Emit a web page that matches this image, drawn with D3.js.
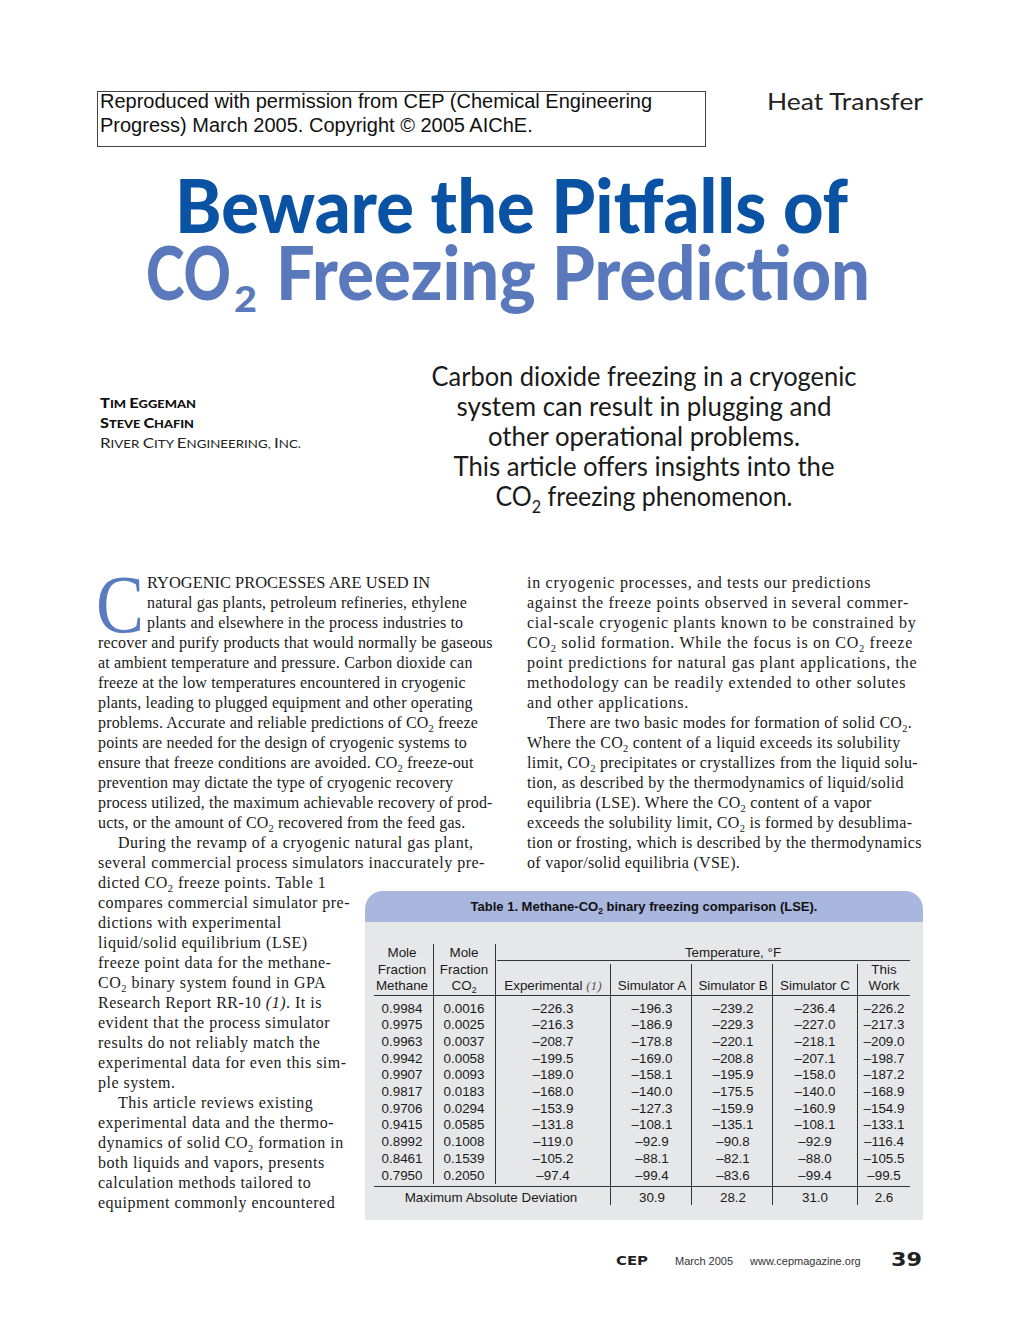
<!DOCTYPE html>
<html><head><meta charset="utf-8">
<script src="https://cdn.jsdelivr.net/npm/d3@7"></script>
<style>body{margin:0;background:#fff}svg{display:block}</style>
</head><body><svg id="page" width="1020" height="1320"></svg>
<script>
// ---------------- DATA ----------------
const noticeLines = [
  "Reproduced with permission from CEP (Chemical Engineering",
  "Progress) March 2005. Copyright © 2005 AIChE."
];
const sectionLabel = "Heat Transfer";
const titleLine1 = "Beware the Pitfalls of";
const titleLine2a = "CO";
const titleLine2b = "Freezing Prediction";
const authorNames = ["Tim Eggeman", "Steve Chafin"];
const affiliation = "River City Engineering, Inc.";
const deckLines = [
  "Carbon dioxide freezing in a cryogenic",
  "system can result in plugging and",
  "other operational problems.",
  "This article offers insights into the",
  "CO₂ freezing phenomenon."
];
const dropCap = "C";
// lines beginning with "¶" are paragraph starts (indented)
const leftColumn = [
  "RYOGENIC PROCESSES ARE USED IN",
  "natural gas plants, petroleum refineries, ethylene",
  "plants and elsewhere in the process industries to",
  "recover and purify products that would normally be gaseous",
  "at ambient temperature and pressure. Carbon dioxide can",
  "freeze at the low temperatures encountered in cryogenic",
  "plants, leading to plugged equipment and other operating",
  "problems. Accurate and reliable predictions of CO₂ freeze",
  "points are needed for the design of cryogenic systems to",
  "ensure that freeze conditions are avoided. CO₂ freeze-out",
  "prevention may dictate the type of cryogenic recovery",
  "process utilized, the maximum achievable recovery of prod-",
  "ucts, or the amount of CO₂ recovered from the feed gas.",
  "¶During the revamp of a cryogenic natural gas plant,",
  "several commercial process simulators inaccurately pre-",
  "dicted CO₂ freeze points. Table 1",
  "compares commercial simulator pre-",
  "dictions with experimental",
  "liquid/solid equilibrium (LSE)",
  "freeze point data for the methane-",
  "CO₂ binary system found in GPA",
  "Research Report RR-10 *(1)*. It is",
  "evident that the process simulator",
  "results do not reliably match the",
  "experimental data for even this sim-",
  "ple system.",
  "¶This article reviews existing",
  "experimental data and the thermo-",
  "dynamics of solid CO₂ formation in",
  "both liquids and vapors, presents",
  "calculation methods tailored to",
  "equipment commonly encountered"
];
const rightColumn = [
  "in cryogenic processes, and tests our predictions",
  "against the freeze points observed in several commer-",
  "cial-scale cryogenic plants known to be constrained by",
  "CO₂ solid formation. While the focus is on CO₂ freeze",
  "point predictions for natural gas plant applications, the",
  "methodology can be readily extended to other solutes",
  "and other applications.",
  "¶There are two basic modes for formation of solid CO₂.",
  "Where the CO₂ content of a liquid exceeds its solubility",
  "limit, CO₂ precipitates or crystallizes from the liquid solu-",
  "tion, as described by the thermodynamics of liquid/solid",
  "equilibria (LSE). Where the CO₂ content of a vapor",
  "exceeds the solubility limit, CO₂ is formed by desublima-",
  "tion or frosting, which is described by the thermodynamics",
  "of vapor/solid equilibria (VSE)."
];

const tableTitle = "Table 1. Methane-CO₂ binary freezing comparison (LSE).";
const columnKeys = ["methane", "co2", "experimental", "simA", "simB", "simC", "thisWork"];
const columnHeaders = [
  ["Mole", "Fraction", "Methane"],
  ["Mole", "Fraction", "CO₂"],
  ["", "", "Experimental *(1)*"],
  ["", "", "Simulator A"],
  ["", "", "Simulator B"],
  ["", "", "Simulator C"],
  ["", "This", "Work"]
];
const temperatureHeader = "Temperature, °F";
const methaneFraction = [0.9984, 0.9975, 0.9963, 0.9942, 0.9907, 0.9817, 0.9706, 0.9415, 0.8992, 0.8461, 0.7950];
const co2Fraction     = [0.0016, 0.0025, 0.0037, 0.0058, 0.0093, 0.0183, 0.0294, 0.0585, 0.1008, 0.1539, 0.2050];
const experimental    = [-226.3, -216.3, -208.7, -199.5, -189.0, -168.0, -153.9, -131.8, -119.0, -105.2, -97.4];
const simulatorA      = [-196.3, -186.9, -178.8, -169.0, -158.1, -140.0, -127.3, -108.1, -92.9, -88.1, -99.4];
const simulatorB      = [-239.2, -229.3, -220.1, -208.8, -195.9, -175.5, -159.9, -135.1, -90.8, -82.1, -83.6];
const simulatorC      = [-236.4, -227.0, -218.1, -207.1, -158.0, -140.0, -160.9, -108.1, -92.9, -88.0, -99.4];
const thisWork        = [-226.2, -217.3, -209.0, -198.7, -187.2, -168.9, -154.9, -133.1, -116.4, -105.5, -99.5];
const deviationLabel = "Maximum Absolute Deviation";
const maxAbsDeviation = [30.9, 28.2, 31.0, 2.6]; // simA, simB, simC, thisWork

const footerBrand = "CEP";
const footerDate = "March 2005";
const footerUrl = "www.cepmagazine.org";
const pageNumber = "39";

// ---------------- HELPERS ----------------
const svg = d3.select("#page");
const SERIF = "'Liberation Serif','Times New Roman',serif";
const SANS = "'Liberation Sans',Arial,Helvetica,sans-serif";
const HUMAN = "Lato,'Open Sans','Noto Sans',sans-serif";

function rich(text, str, size) {
  let italic = false, buf = "", pending = 0;
  const flush = () => {
    if (!buf) return;
    const t = text.append("tspan").text(buf);
    if (italic) t.attr("font-style", "italic");
    if (pending) { t.attr("dy", pending); pending = 0; }
    buf = "";
  };
  for (const ch of str) {
    if (ch === "*") { flush(); italic = !italic; continue; }
    if (ch === "₂") {
      flush();
      const off = size * 0.25;
      text.append("tspan").attr("font-size", size * 0.65).attr("dy", off + (pending || 0)).text("2");
      pending = -off;
      continue;
    }
    buf += ch;
  }
  flush();
  return text;
}

// ---------------- HEADER ----------------
svg.append("rect").attr("x", 97.5).attr("y", 91.5).attr("width", 608).attr("height", 55)
  .attr("fill", "none").attr("stroke", "#444").attr("stroke-width", 1);
svg.selectAll("text.notice").data(noticeLines).join("text").attr("class", "notice")
  .attr("x", 100).attr("y", (d, i) => 108 + i * 24)
  .attr("font-family", SANS).attr("font-size", 20).attr("fill", "#111").text(d => d);

svg.append("text").attr("x", 767).attr("y", 110).attr("font-family", HUMAN).attr("font-size", 24)
  .attr("fill", "#222").attr("textLength", 156).attr("lengthAdjust", "spacingAndGlyphs").text(sectionLabel);

// Title
svg.append("text").attr("x", 175).attr("y", 233).attr("font-family", HUMAN).attr("font-weight", 900)
  .attr("font-size", 74).attr("fill", "#0a52a3").attr("textLength", 673).attr("lengthAdjust", "spacingAndGlyphs")
  .text(titleLine1);
svg.append("text").attr("x", 146).attr("y", 300).attr("font-family", HUMAN).attr("font-weight", 900)
  .attr("font-size", 74).attr("fill", "#5a79bd").attr("textLength", 85).attr("lengthAdjust", "spacingAndGlyphs")
  .text(titleLine2a);
svg.append("text").attr("x", 234).attr("y", 312).attr("font-family", HUMAN).attr("font-weight", 900)
  .attr("font-size", 36).attr("fill", "#5a79bd").attr("textLength", 23).attr("lengthAdjust", "spacingAndGlyphs")
  .text("2");
svg.append("text").attr("x", 276).attr("y", 300).attr("font-family", HUMAN).attr("font-weight", 900)
  .attr("font-size", 74).attr("fill", "#5a79bd").attr("textLength", 594).attr("lengthAdjust", "spacingAndGlyphs")
  .text(titleLine2b);

// Authors (small caps)
function smallCaps(text, str, big, small) {
  str.split(/(\s+)/).forEach(word => {
    if (!word.trim()) { text.append("tspan").attr("font-size", small).text(" "); return; }
    for (const ch of word) {
      const isUpper = ch === ch.toUpperCase() && /[A-Za-z]/.test(ch);
      text.append("tspan").attr("font-size", isUpper ? big : small).text(ch.toUpperCase());
    }
  });
}
const authorWidths = [96, 94];
authorNames.forEach((n, i) => {
  const t = svg.append("text").attr("x", 100).attr("y", 408 + i * 20).attr("font-family", HUMAN)
    .attr("font-weight", 900).attr("fill", "#111").attr("textLength", authorWidths[i]).attr("lengthAdjust", "spacingAndGlyphs");
  smallCaps(t, n, 14, 11);
});
{
  const t = svg.append("text").attr("x", 100).attr("y", 448).attr("font-family", HUMAN)
    .attr("fill", "#222").attr("textLength", 201).attr("lengthAdjust", "spacingAndGlyphs");
  smallCaps(t, affiliation, 14, 11);
}

// Deck
const deckWidths = [425, 375, 312, 381, 297];
deckLines.forEach((line, i) => {
  const t = svg.append("text").attr("x", 644 - deckWidths[i] / 2).attr("y", 386 + i * 30)
    .attr("font-family", HUMAN).attr("font-weight", 400).attr("font-size", 26).attr("fill", "#1a1a1a")
    .attr("textLength", deckWidths[i]).attr("lengthAdjust", "spacingAndGlyphs");
  rich(t, line, 26);
});

// ---------------- BODY ----------------
svg.append("text").attr("x", 96).attr("y", 632).attr("font-family", SERIF).attr("font-size", 82)
  .attr("fill", "#5a7bc0").attr("textLength", 48).attr("lengthAdjust", "spacingAndGlyphs").text(dropCap);

function column(lines, x0, y0, tracking, lead) {
  lines.forEach((raw, i) => {
    let x = x0, s = raw;
    if (s.startsWith("¶")) { s = s.slice(1); x += 20; }
    if (lead && i < lead.count) x = lead.x;
    const t = svg.append("text").attr("x", x).attr("y", y0 + i * 20).attr("font-family", SERIF)
      .attr("font-size", 16).attr("fill", "#1a1a1a").attr("letter-spacing", tracking(i));
    if (i === 0 && lead) t.attr("textLength", 283).attr("lengthAdjust", "spacingAndGlyphs").attr("letter-spacing", null);
    rich(t, s, 16);
  });
}
column(leftColumn, 98, 588, i => (i < 13 ? 0.17 : 0.5), { count: 3, x: 147 });
column(rightColumn, 527, 588, i => (i < 7 ? 0.72 : 0.3), null);

// ---------------- TABLE ----------------
const panelX = 365, panelW = 558, panelTop = 891, bandBottom = 922, panelBottom = 1220, r = 18;
svg.append("rect").attr("x", panelX).attr("y", bandBottom).attr("width", panelW).attr("height", panelBottom - bandBottom)
  .attr("fill", "#e6e7e9");
const band = d3.path();
band.moveTo(panelX, bandBottom);
band.lineTo(panelX, panelTop + r);
band.arcTo(panelX, panelTop, panelX + r, panelTop, r);
band.lineTo(panelX + panelW - r, panelTop);
band.arcTo(panelX + panelW, panelTop, panelX + panelW, panelTop + r, r);
band.lineTo(panelX + panelW, bandBottom);
band.closePath();
svg.append("path").attr("d", band.toString()).attr("fill", "#a9b6de");
rich(svg.append("text").attr("x", 644).attr("y", 911).attr("text-anchor", "middle")
  .attr("font-family", SANS).attr("font-weight", 700).attr("font-size", 13).attr("fill", "#111"), tableTitle, 13);

const colX = d3.scaleOrdinal().domain(columnKeys).range([402, 464, 553, 652, 733, 815, 884]);
const headerY = d3.scaleLinear().domain([0, 2]).range([957, 990]);
const rows = methaneFraction.map((m, i) => ({
  methane: d3.format(".4f")(m),
  co2: d3.format(".4f")(co2Fraction[i]),
  experimental: experimental[i], simA: simulatorA[i], simB: simulatorB[i], simC: simulatorC[i], thisWork: thisWork[i]
}));
const rowY = d3.scaleLinear().domain([0, rows.length - 1]).range([1012.5, 1179.5]);
const fmtT = v => (v < 0 ? "–" : "") + d3.format(".1f")(Math.abs(v));

const tbl = svg.append("g").attr("font-family", SANS).attr("font-size", 13.4).attr("fill", "#1a1a1a");
const line = (x1, y1, x2, y2) => tbl.append("line").attr("x1", x1).attr("y1", y1).attr("x2", x2).attr("y2", y2)
  .attr("stroke", "#333").attr("stroke-width", 1);

// header
columnKeys.forEach((k, ci) => {
  columnHeaders[ci].forEach((h, hi) => {
    if (!h) return;
    rich(tbl.append("text").attr("x", colX(k)).attr("y", headerY(hi)).attr("text-anchor", "middle"), h, 13.4)
      .selectAll("tspan").filter(function () { return d3.select(this).attr("font-style") === "italic"; })
      .attr("font-family", SERIF).attr("fill", "#555");
  });
});
tbl.append("text").attr("x", 733).attr("y", headerY(0)).attr("text-anchor", "middle").text(temperatureHeader);

// grid lines
line(497, 960.5, 910, 960.5);
line(374, 995.5, 910, 995.5);
line(374, 1186.5, 910, 1186.5);
[433.5, 495.5].forEach(x => line(x, 944, x, 1184));
[610.5, 691.5, 772.5, 857.5].forEach(x => line(x, 964, x, 1205));

// body cells
rows.forEach((row, ri) => {
  columnKeys.forEach(k => {
    const v = row[k];
    tbl.append("text").attr("x", colX(k)).attr("y", rowY(ri)).attr("text-anchor", "middle")
      .text(typeof v === "number" ? fmtT(v) : v);
  });
});
tbl.append("text").attr("x", 491).attr("y", 1201.5).attr("text-anchor", "middle").text(deviationLabel);
["simA", "simB", "simC", "thisWork"].forEach((k, i) => {
  tbl.append("text").attr("x", colX(k)).attr("y", 1201.5).attr("text-anchor", "middle")
    .text(d3.format(".1f")(maxAbsDeviation[i]));
});

// ---------------- FOOTER ----------------
svg.append("text").attr("x", 616).attr("y", 1265).attr("font-family", "'DejaVu Sans',sans-serif").attr("font-weight", 700)
  .attr("font-size", 12).attr("fill", "#222").attr("textLength", 32).attr("lengthAdjust", "spacingAndGlyphs").text(footerBrand);
svg.append("text").attr("x", 675).attr("y", 1265).attr("font-family", SANS).attr("font-size", 11).attr("fill", "#333").text(footerDate);
svg.append("text").attr("x", 750).attr("y", 1265).attr("font-family", SANS).attr("font-size", 11).attr("fill", "#333").text(footerUrl);
svg.append("text").attr("x", 891).attr("y", 1266).attr("font-family", "'DejaVu Sans',sans-serif").attr("font-weight", 700)
  .attr("font-size", 19).attr("fill", "#222").attr("textLength", 31).attr("lengthAdjust", "spacingAndGlyphs").text(pageNumber);
</script></body></html>
